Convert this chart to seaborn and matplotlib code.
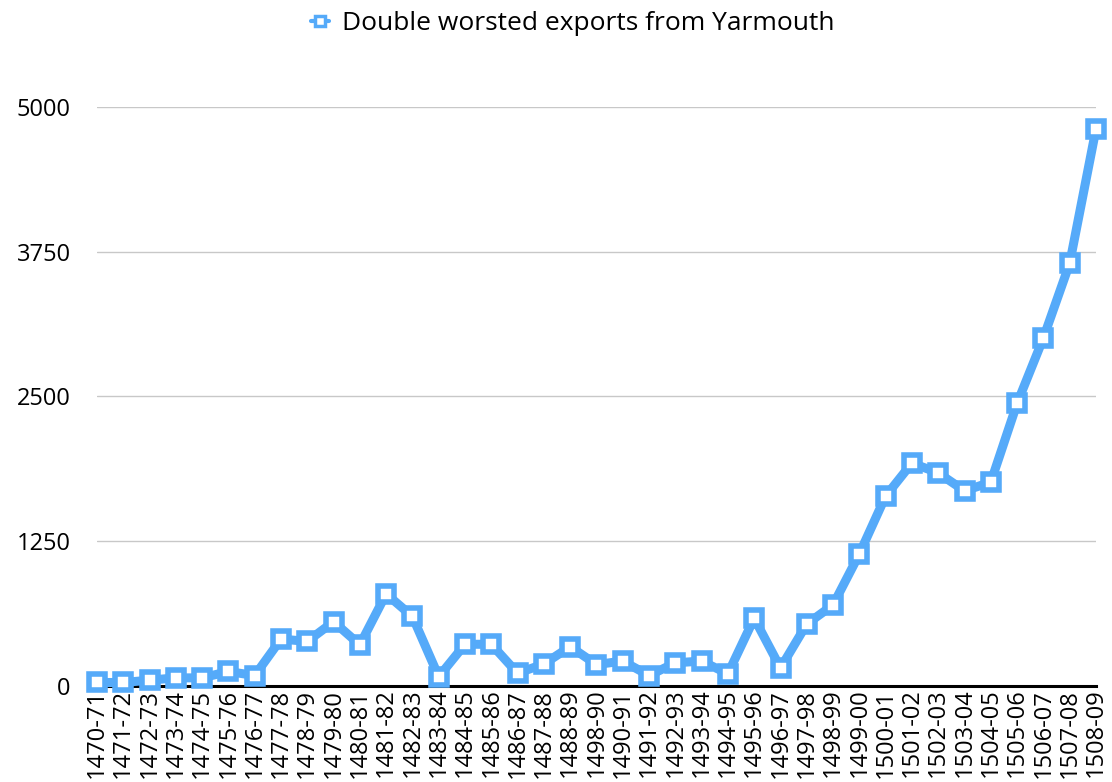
import pandas as pd
import seaborn as sns
import matplotlib.pyplot as plt
from matplotlib.lines import Line2D

years = ["1470-71", "1471-72", "1472-73", "1473-74", "1474-75", "1475-76", "1476-77",
         "1477-78", "1478-79", "1479-80", "1480-81", "1481-82", "1482-83", "1483-84",
         "1484-85", "1485-86", "1486-87", "1487-88", "1488-89", "1498-90", "1490-91",
         "1491-92", "1492-93", "1493-94", "1494-95", "1495-96", "1496-97", "1497-98",
         "1498-99", "1499-00", "1500-01", "1501-02", "1502-03", "1503-04", "1504-05",
         "1505-06", "1506-07", "1507-08", "1508-09"]
exports = [30, 30, 50, 70, 70, 125, 90,
           405, 385, 555, 355, 795, 600, 80,
           360, 360, 110, 190, 340, 185, 215,
           90, 200, 215, 105, 585, 155, 535,
           700, 1140, 1640, 1925, 1840, 1685, 1760,
           2440, 3005, 3650, 4810]
yticks = [0, 1250, 2500, 3750, 5000]
series_name = "Double worsted exports from Yarmouth"

df = pd.DataFrame({"year": years, "exports": exports})

sns.set_style("white")
plt.rcParams['font.family'] = ['Open Sans', 'DejaVu Sans']
plt.rcParams['text.color'] = 'black'
plt.rcParams['xtick.color'] = 'black'
plt.rcParams['ytick.color'] = 'black'

blue = "#55aaf9"
fig = plt.figure(figsize=(11.12, 7.82), dpi=100)
ax = fig.add_axes([0.0872, 0.1228, 0.8984, 0.7404])

sns.lineplot(data=df, x="year", y="exports", sort=False, ax=ax, color=blue,
             linewidth=6.5, marker="s", markersize=11.5, markerfacecolor="white",
             markeredgecolor=blue, markeredgewidth=4, legend=False,
             clip_on=False, zorder=3)

ax.set_xlim(0, len(years) - 1)
ax.set_ylim(0, 5000)
ax.set_yticks(yticks)
ax.set_yticklabels([str(t) for t in yticks], fontsize=17)
ax.set_xticks(range(len(years)))
ax.set_xticklabels(years, rotation=90, fontsize=17)
ax.tick_params(axis="y", length=0, pad=19)
ax.tick_params(axis="x", length=0, pad=2)
ax.set_xlabel("")
ax.set_ylabel("")
ax.grid(axis="y", color="#c8c8c8", linewidth=1)
ax.set_axisbelow(True)
for s in ["top", "right", "left"]:
    ax.spines[s].set_visible(False)
ax.spines["bottom"].set_color("black")
ax.spines["bottom"].set_linewidth(2.2)
ax.spines["bottom"].set_zorder(2)

# legend proxy: small square with short line stubs
proxy = Line2D([], [], color=blue, linewidth=3, marker="s", markersize=7,
               markerfacecolor="white", markeredgecolor=blue, markeredgewidth=2.5)
fig.legend([proxy], [series_name], loc="center", bbox_to_anchor=(0.515, 0.97),
           frameon=False, fontsize=19, handlelength=0.7, handletextpad=0.5)

fig.savefig("out.png", dpi=100)
